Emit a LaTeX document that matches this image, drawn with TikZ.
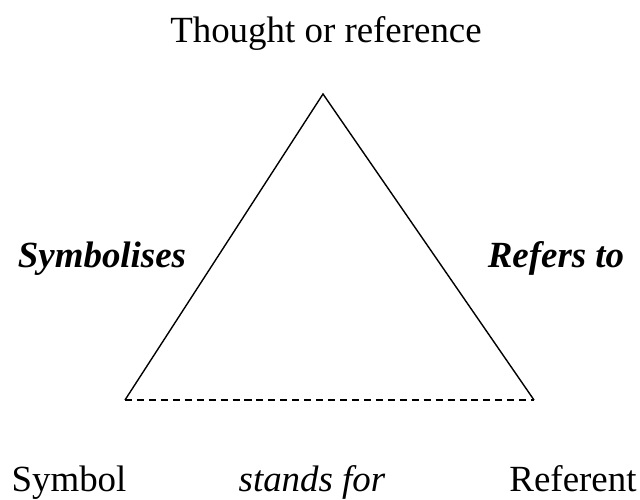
\documentclass[tikz,border=0pt]{standalone}
\usepackage{fontspec}
\setmainfont{Liberation Serif}
\begin{document}
\begin{tikzpicture}[x=0.02cm,y=-0.02cm,font=\fontsize{21}{25}\selectfont,
  every node/.style={anchor=base,inner sep=0pt},line width=0.8pt]
\useasboundingbox (0,0) rectangle (640,500);
% corners of the triangle
\coordinate (T) at (323,94);
\coordinate (S) at (125,400);
\coordinate (R) at (534,400);
\draw (S) -- (T) -- (R);
\draw [dash pattern=on 4pt off 2.8pt] (S) -- (R);
% labels
\node (thought) at (326,43) {Thought or reference};
\node (symb) at (102,268) {\textbf{\textit{Symbolises}}};
\node (refto) at (556,268) {\textbf{\textit{Refers to}}};
\node (symbol) at (69,492) {Symbol};
\node (stands) at (312,492) {\textit{stands for}};
\node (referent) at (573,492) {Referent};
\end{tikzpicture}
\end{document}
